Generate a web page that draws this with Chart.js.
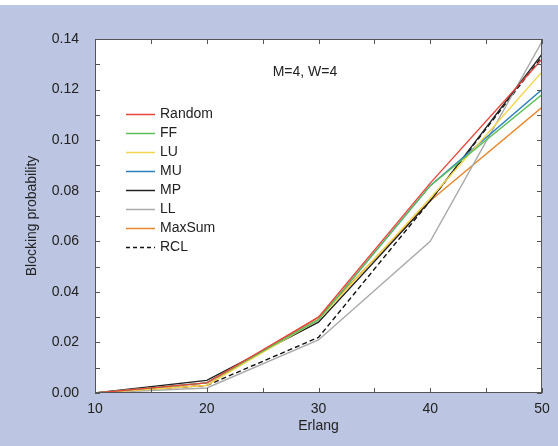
<!DOCTYPE html>
<html>
<head>
<meta charset="utf-8">
<script src="https://cdn.jsdelivr.net/npm/chart.js@4"></script>
<style>
  html, body { margin: 0; padding: 0; background: #fff; }
  #wrap { width: 558px; height: 446px; }
</style>
</head>
<body>
<div id="wrap"><canvas id="blockingChart" width="558" height="446"></canvas></div>
<script>
// Erlang load (x) and blocking probability per algorithm
const erlang = [10, 20, 30, 40, 50];
const random = [0, 0.004, 0.030, 0.083, 0.132];
const ff     = [0, 0.004, 0.029, 0.082, 0.118];
const lu     = [0, 0.003, 0.029, 0.077, 0.127];
const mu     = [0, 0.004, 0.029, 0.082, 0.120];
const mp     = [0, 0.005, 0.028, 0.076, 0.134];
const ll     = [0, 0.002, 0.021, 0.060, 0.139];
const maxSum = [0, 0.003, 0.030, 0.076, 0.113];
const rcl    = [0, 0.003, 0.022, 0.076, 0.133];

const xTickLabels = [10, 20, 30, 40, 50];
const yTickLabels = ['0.00', '0.02', '0.04', '0.06', '0.08', '0.10', '0.12', '0.14'];
const chartNote = 'M=4, W=4';

const FONT = '"Liberation Sans", Arial, sans-serif';
const TEXT = '#222';

function series(label, values, color, dash) {
    return {
        label: label,
        data: erlang.map((x, i) => ({ x: x, y: values[i] })),
        borderColor: color,
        backgroundColor: color,
        borderWidth: 1.4,
        borderDash: dash || [],
        pointRadius: 0,
        tension: 0,
        fill: false
    };
}

// --- background, frame, inward ticks, note and legend ---
const decorPlugin = {
    id: 'decor',
    beforeDraw(chart) {
        const ctx = chart.ctx;
        const a = chart.chartArea;
        ctx.save();
        ctx.fillStyle = '#fff';
        ctx.fillRect(0, 0, chart.width, chart.height);
        ctx.fillStyle = '#bcc5e2';
        ctx.fillRect(0, 5, chart.width, chart.height - 5);
        ctx.fillStyle = '#fff';
        ctx.fillRect(a.left, a.top, a.right - a.left, a.bottom - a.top);
        ctx.restore();
    },
    afterDatasetsDraw(chart) {
        const ctx = chart.ctx;
        const a = chart.chartArea;
        const xs = chart.scales.x;
        const ys = chart.scales.y;
        ctx.save();
        ctx.strokeStyle = '#555';
        ctx.lineWidth = 1;
        ctx.strokeRect(a.left + 0.5, a.top + 0.5, a.right - a.left - 1, a.bottom - a.top - 1);

        ctx.beginPath();
        for (let v = 10; v <= 50; v += 5) {
            const px = Math.round(xs.getPixelForValue(v)) + 0.5;
            ctx.moveTo(px, a.bottom); ctx.lineTo(px, a.bottom - 5);
            ctx.moveTo(px, a.top); ctx.lineTo(px, a.top + 5);
        }
        for (let k = 0; k <= 14; k++) {
            const py = Math.round(ys.getPixelForValue(k / 100)) + 0.5;
            ctx.moveTo(a.left, py); ctx.lineTo(a.left + 5, py);
            ctx.moveTo(a.right, py); ctx.lineTo(a.right - 5, py);
        }
        ctx.stroke();

        // note
        ctx.fillStyle = TEXT;
        ctx.font = '14px ' + FONT;
        ctx.textAlign = 'center';
        ctx.textBaseline = 'middle';
        ctx.fillText(chartNote, 305, 72);

        // legend
        ctx.textAlign = 'left';
        chart.data.datasets.forEach((ds, i) => {
            const y = 114 + i * 19 + 0.5;
            ctx.strokeStyle = ds.borderColor;
            ctx.lineWidth = 1.5;
            ctx.setLineDash(ds.borderDash.length ? [4, 3] : []);
            ctx.beginPath();
            ctx.moveTo(126, y); ctx.lineTo(155, y);
            ctx.stroke();
            ctx.setLineDash([]);
            ctx.fillStyle = TEXT;
            ctx.fillText(ds.label, 160, y);
        });
        ctx.restore();
    }
};

new Chart(document.getElementById('blockingChart'), {
    type: 'line',
    data: {
        datasets: [
            series('Random', random, '#e8453c'),
            series('FF', ff, '#5cbf5a'),
            series('LU', lu, '#f4d54c'),
            series('MU', mu, '#2d7fc0'),
            series('MP', mp, '#222222'),
            series('LL', ll, '#a9a9a9'),
            series('MaxSum', maxSum, '#e8862c'),
            series('RCL', rcl, '#111111', [5, 3])
        ]
    },
    options: {
        responsive: false,
        animation: false,
        layout: { padding: { top: 39, right: 16, left: 24, bottom: 0 } },
        plugins: { legend: { display: false }, tooltip: { enabled: false } },
        scales: {
            x: {
                type: 'linear',
                min: 10,
                max: 50,
                afterBuildTicks(scale) { scale.ticks = xTickLabels.map(v => ({ value: v })); },
                afterFit(scale) { scale.height = 53; },
                grid: { display: false },
                border: { display: false },
                ticks: { color: TEXT, font: { family: FONT, size: 14 }, padding: 0, maxRotation: 0 },
                title: { display: true, text: 'Erlang', color: TEXT, font: { family: FONT, size: 14 }, padding: { top: 0, bottom: 11 } }
            },
            y: {
                type: 'linear',
                min: 0,
                max: 0.14,
                afterBuildTicks(scale) { scale.ticks = yTickLabels.map(t => ({ value: parseFloat(t) })); },
                afterFit(scale) { scale.width = 71; },
                grid: { display: false },
                border: { display: false },
                ticks: {
                    color: TEXT,
                    font: { family: FONT, size: 14 },
                    padding: 8,
                    callback: (v, i) => yTickLabels[i]
                },
                title: { display: true, text: 'Blocking probability', color: TEXT, font: { family: FONT, size: 14 }, padding: { top: 0, bottom: 0 } }
            }
        }
    },
    plugins: [decorPlugin]
});
</script>
</body>
</html>
